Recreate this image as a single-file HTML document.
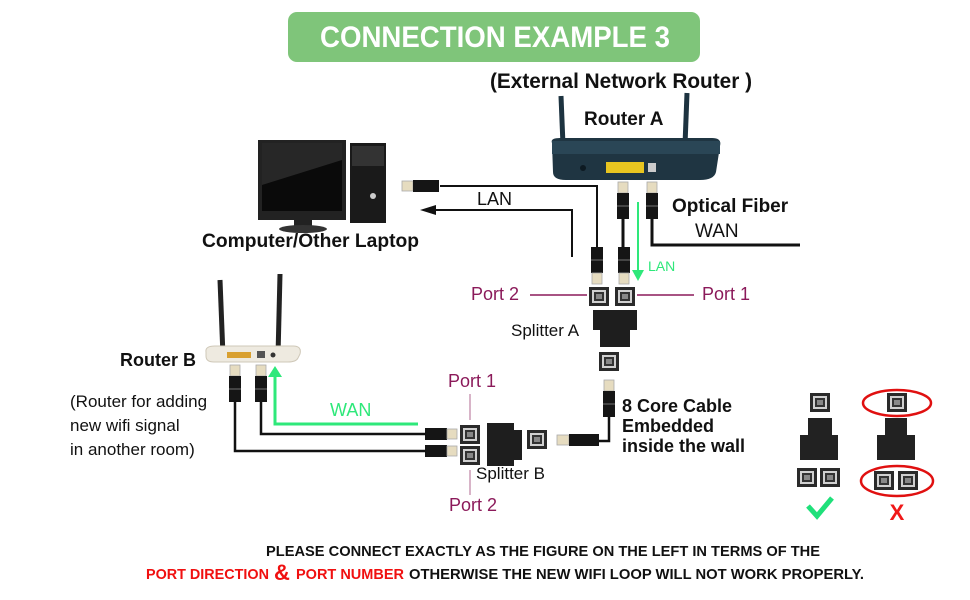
<!DOCTYPE html>
<html><head><meta charset="utf-8"><style>
html,body{margin:0;padding:0;background:#fff}
svg{display:block}
text{font-family:"Liberation Sans",sans-serif}
</style></head><body>
<svg width="970" height="600" viewBox="0 0 970 600" xmlns="http://www.w3.org/2000/svg">
<defs>
 <g id="plugD"><!-- tip down -->
  <rect x="-6" y="0" width="12" height="26" fill="#151515"/>
  <rect x="-6" y="12" width="12" height="2" fill="#444"/>
  <rect x="-5" y="26" width="10" height="11" fill="#e6dcc0" stroke="#aaa" stroke-width="0.8"/>
 </g>
 <g id="plugU"><!-- tip up -->
  <rect x="-5" y="0" width="10" height="11" fill="#e6dcc0" stroke="#aaa" stroke-width="0.8"/>
  <rect x="-6" y="11" width="12" height="26" fill="#151515"/>
  <rect x="-6" y="23" width="12" height="2" fill="#444"/>
 </g>
 <g id="port">
  <rect x="0" y="0" width="20" height="19" fill="#2a2a2a"/>
  <rect x="3" y="3" width="14" height="13" fill="#d0d0d0"/>
  <rect x="5" y="5" width="10" height="9" fill="#333"/>
  <rect x="7" y="7" width="6" height="5" fill="#888"/>
 </g>
</defs>

<!-- Title -->
<rect x="288" y="12" width="412" height="50" rx="9" fill="#7fc57a"/>
<text x="495" y="47" font-size="30" font-weight="bold" fill="#fff" text-anchor="middle" textLength="350" lengthAdjust="spacingAndGlyphs">CONNECTION EXAMPLE 3</text>
<text x="490" y="88" font-size="21" font-weight="bold" fill="#111" textLength="262" lengthAdjust="spacingAndGlyphs">(External Network Router )</text>
<text x="584" y="125" font-size="19" font-weight="bold" fill="#111">Router A</text>

<!-- Router A -->
<line x1="561" y1="96" x2="563" y2="145" stroke="#1d3340" stroke-width="5"/>
<line x1="687" y1="93" x2="685" y2="145" stroke="#1d3340" stroke-width="5"/>
<path d="M552 143 Q550 138 560 138 L712 138 Q722 138 720 146 L716 172 Q714 180 700 180 L566 180 Q553 180 553 172 Z" fill="#1f3542"/>
<rect x="552" y="141" width="168" height="13" fill="#2a4656"/>
<rect x="606" y="162" width="38" height="11" fill="#e8c520"/>
<rect x="648" y="163" width="8" height="9" fill="#ccc"/>
<circle cx="583" cy="168" r="3" fill="#0d1a22"/>

<!-- Computer -->
<rect x="258" y="140" width="88" height="80" fill="#222" />
<rect x="262" y="143" width="80" height="68" fill="#0a0a0a"/>
<path d="M262 143 L342 143 L342 160 L262 185 Z" fill="#3a3a3a" opacity="0.6"/>
<rect x="294" y="220" width="18" height="8" fill="#222"/>
<ellipse cx="303" cy="229" rx="24" ry="4" fill="#333"/>
<rect x="350" y="143" width="36" height="80" fill="#1a1a1a"/>
<rect x="352" y="146" width="32" height="20" fill="#333"/>
<circle cx="373" cy="196" r="3" fill="#ccc"/>
<text x="202" y="247" font-size="19" font-weight="bold" fill="#111" textLength="217" lengthAdjust="spacingAndGlyphs">Computer/Other Laptop</text>

<!-- LAN to computer -->
<polyline points="440,186 597,186 597,250" fill="none" stroke="#111" stroke-width="2"/>
<rect x="402" y="181" width="11" height="10" fill="#e6dcc0" stroke="#aaa" stroke-width="0.8"/>
<rect x="413" y="180" width="26" height="12" fill="#151515"/>
<polyline points="572,257 572,210 432,210" fill="none" stroke="#111" stroke-width="2"/>
<polygon points="420,210 436,205 436,215" fill="#111"/>
<text x="477" y="205" font-size="18" fill="#111">LAN</text>

<!-- Router A plugs -->
<use href="#plugU" x="623" y="182"/>
<use href="#plugU" x="652" y="182"/>
<line x1="623" y1="219" x2="623" y2="250" stroke="#111" stroke-width="3"/>
<polyline points="652,219 652,245 800,245" fill="none" stroke="#111" stroke-width="3"/>
<text x="672" y="212" font-size="19" font-weight="bold" fill="#111">Optical Fiber</text>
<text x="695" y="237" font-size="19" fill="#111">WAN</text>

<use href="#plugD" x="597" y="247"/>
<use href="#plugD" x="624" y="247"/>
<line x1="638" y1="202" x2="638" y2="272" stroke="#2ee87a" stroke-width="2"/>
<polygon points="632,270 644,270 638,281" fill="#2ee87a"/>
<text x="648" y="271" font-size="14" fill="#2ee87a">LAN</text>

<!-- Splitter A -->
<use href="#port" x="589" y="287"/>
<use href="#port" x="615" y="287"/>
<line x1="530" y1="295" x2="587" y2="295" stroke="#8b1a5a" stroke-width="1.5"/>
<line x1="637" y1="295" x2="694" y2="295" stroke="#8b1a5a" stroke-width="1.5"/>
<text x="471" y="300" font-size="18" fill="#8b1a5a">Port 2</text>
<text x="702" y="300" font-size="18" fill="#8b1a5a">Port 1</text>
<path d="M593 310 L637 310 L637 330 L630 330 L630 347 L600 347 L600 330 L593 330 Z" fill="#1e1e1e"/>
<text x="511" y="336" font-size="17" fill="#111">Splitter A</text>
<use href="#port" x="599" y="352"/>

<!-- cable to splitter B -->
<use href="#plugU" x="609" y="380"/>
<polyline points="609,417 609,441 598,441" fill="none" stroke="#111" stroke-width="2.5"/>
<rect x="557" y="435" width="12" height="10" fill="#e6dcc0" stroke="#aaa" stroke-width="0.8"/>
<rect x="569" y="434" width="30" height="12" fill="#151515"/>
<text x="622" y="412" font-size="18" font-weight="bold" fill="#111">8 Core Cable</text>
<text x="622" y="432" font-size="18" font-weight="bold" fill="#111">Embedded</text>
<text x="622" y="452" font-size="18" font-weight="bold" fill="#111">inside the wall</text>

<!-- Splitter B -->
<use href="#port" x="460" y="425"/>
<use href="#port" x="460" y="446"/>
<path d="M487 423 L514 423 L514 430 L522 430 L522 460 L514 460 L514 466 L487 466 Z" fill="#1e1e1e"/>
<use href="#port" x="527" y="430"/>
<line x1="470" y1="394" x2="470" y2="420" stroke="#b06a92" stroke-width="1"/>
<line x1="470" y1="470" x2="470" y2="495" stroke="#b06a92" stroke-width="1"/>
<text x="448" y="387" font-size="18" fill="#8b1a5a">Port 1</text>
<text x="449" y="511" font-size="18" fill="#8b1a5a">Port 2</text>
<text x="476" y="479" font-size="17" fill="#111">Splitter B</text>

<!-- plugs into splitter B -->
<rect x="425" y="428" width="22" height="12" fill="#151515"/>
<rect x="447" y="429" width="10" height="10" fill="#e6dcc0" stroke="#aaa" stroke-width="0.8"/>
<rect x="425" y="445" width="22" height="12" fill="#151515"/>
<rect x="447" y="446" width="10" height="10" fill="#e6dcc0" stroke="#aaa" stroke-width="0.8"/>
<polyline points="426,434 261,434 261,375" fill="none" stroke="#111" stroke-width="2.5"/>
<polyline points="426,451 235,451 235,375" fill="none" stroke="#111" stroke-width="2.5"/>
<polyline points="418,424 275,424 275,375" fill="none" stroke="#2ee87a" stroke-width="3"/>
<polygon points="268,377 282,377 275,366" fill="#2ee87a"/>
<text x="330" y="416" font-size="18" fill="#2ee87a">WAN</text>

<!-- Router B -->
<line x1="220" y1="280" x2="223" y2="356" stroke="#222" stroke-width="5"/>
<line x1="280" y1="274" x2="278" y2="356" stroke="#222" stroke-width="5"/>
<path d="M206 352 Q205 346 215 346 L293 346 Q302 346 300 354 L298 358 Q296 362 288 362 L214 362 Q206 362 206 356 Z" fill="#eeeae0" stroke="#cfc8b8" stroke-width="1"/>
<rect x="227" y="352" width="24" height="6" fill="#d9a030"/>
<rect x="257" y="351" width="8" height="7" fill="#555"/>
<circle cx="273" cy="355" r="2.5" fill="#333"/>
<use href="#plugU" x="235" y="365"/>
<use href="#plugU" x="261" y="365"/>
<text x="120" y="366" font-size="18" font-weight="bold" fill="#111">Router B</text>
<text x="70" y="407" font-size="17" fill="#111">(Router for adding</text>
<text x="70" y="431" font-size="17" fill="#111">new wifi signal</text>
<text x="70" y="455" font-size="17" fill="#111">in another room)</text>

<!-- Right icons: correct -->
<use href="#port" x="810" y="393"/>
<path d="M808 418 L832 418 L832 435 L838 435 L838 460 L800 460 L800 435 L808 435 Z" fill="#222"/>
<use href="#port" x="797" y="468"/>
<use href="#port" x="820" y="468"/>
<polyline points="808,506 817,516 832,498" fill="none" stroke="#1fe07a" stroke-width="5"/>
<!-- wrong -->
<use href="#port" x="887" y="393"/>
<path d="M885 418 L907 418 L907 435 L915 435 L915 460 L877 460 L877 435 L885 435 Z" fill="#222"/>
<use href="#port" x="874" y="471"/>
<use href="#port" x="898" y="471"/>
<ellipse cx="897" cy="403" rx="34" ry="13" fill="none" stroke="#e01010" stroke-width="2.5"/>
<ellipse cx="897" cy="481" rx="36" ry="15" fill="none" stroke="#e01010" stroke-width="2.5"/>
<text x="897" y="520" font-size="22" font-weight="bold" fill="#f01818" text-anchor="middle">X</text>

<!-- bottom text -->
<text x="266" y="556" font-size="15" font-weight="bold" fill="#111" textLength="554" lengthAdjust="spacingAndGlyphs">PLEASE CONNECT EXACTLY AS THE FIGURE ON THE LEFT IN TERMS OF THE</text>
<text x="146" y="579" font-size="15" font-weight="bold" fill="#f01010" textLength="123" lengthAdjust="spacingAndGlyphs">PORT DIRECTION</text>
<text x="274" y="580" font-size="22" font-weight="bold" fill="#f01010">&amp;</text>
<text x="296" y="579" font-size="15" font-weight="bold" fill="#f01010" textLength="108" lengthAdjust="spacingAndGlyphs">PORT NUMBER</text>
<text x="409" y="579" font-size="15" font-weight="bold" fill="#111" textLength="455" lengthAdjust="spacingAndGlyphs">OTHERWISE THE NEW WIFI LOOP WILL NOT WORK PROPERLY.</text>
</svg>
</body></html>
